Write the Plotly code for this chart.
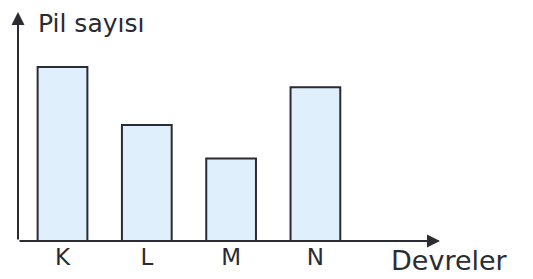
import plotly.graph_objects as go

categories = ["K", "L", "M", "N"]
values = [6.0, 4.0, 2.85, 5.3]
y_title = "Pil sayısı"
x_title = "Devreler"

ink = "#2b2b33"
fig = go.Figure(go.Bar(
    x=categories, y=values, width=0.59,
    marker=dict(color="#dff0fc", line=dict(color=ink, width=2)),
))

fig.update_layout(
    width=533, height=279,
    margin=dict(l=10, r=101, t=4, b=46),
    paper_bgcolor="white", plot_bgcolor="white",
    showlegend=False,
    font=dict(family="DejaVu Sans", color=ink),
    xaxis=dict(range=[-0.528, 4.478], showgrid=False, zeroline=False, showline=False,
               ticks="", tickfont=dict(size=23, color=ink), fixedrange=True),
    yaxis=dict(range=[0, 7.9], showgrid=False, zeroline=False, showline=False,
               showticklabels=False, ticks="", fixedrange=True),
    annotations=[
        dict(x=1, y=0, ax=0, ay=0, xref="x domain", yref="y domain",
             axref="x domain", ayref="y domain", showarrow=True, text="",
             arrowhead=2, arrowsize=1.3, arrowwidth=2, arrowcolor=ink),
        dict(x=0, y=1, ax=0, ay=0, xref="x domain", yref="y domain",
             axref="x domain", ayref="y domain", showarrow=True, text="",
             arrowhead=2, arrowsize=1.3, arrowwidth=2, arrowcolor=ink),
        dict(x=0.043, y=0.95, xref="x domain", yref="y domain", text=y_title,
             showarrow=False, xanchor="left", yanchor="middle",
             font=dict(size=25, color=ink)),
        dict(x=0.88, y=-0.085, xref="x domain", yref="y domain", text=x_title,
             showarrow=False, xanchor="left", yanchor="middle",
             font=dict(size=27, color=ink)),
    ],
)

fig.write_html("out.html")
